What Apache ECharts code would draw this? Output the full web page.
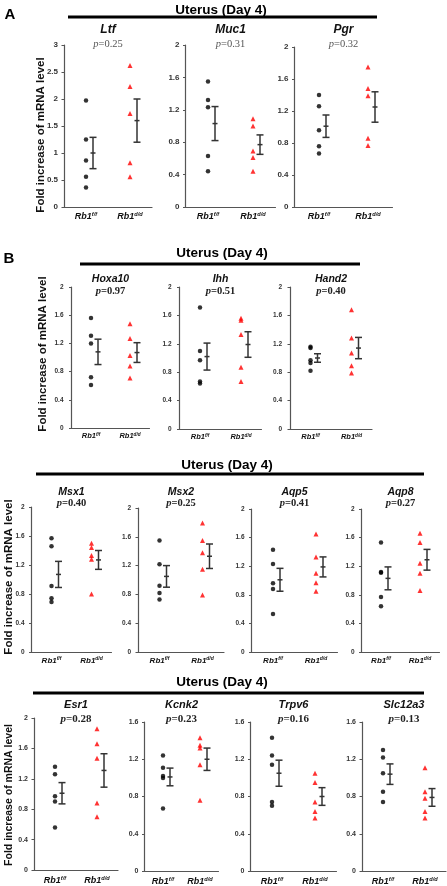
<!DOCTYPE html>
<html><head><meta charset="utf-8">
<script src="https://cdn.jsdelivr.net/npm/echarts@6/dist/echarts.min.js"></script>
<style>html,body{margin:0;padding:0;background:#fff}#c{width:447px;height:886px}</style>
</head><body><div id="c"></div>
<script>
// ---------- DATA ----------
const genes = ['Ltf','Muc1','Pgr','Hoxa10','Ihh','Hand2','Msx1','Msx2','Aqp5','Aqp8','Esr1','Kcnk2','Trpv6','Slc12a3'];
const pValues = ['0.25','0.31','0.32','0.97','0.51','0.40','0.40','0.25','0.41','0.27','0.28','0.23','0.16','0.13'];
const categories = ['Rb1f/f','Rb1d/d'];
const yMaxes = [3,2,2,2,2,2,2,2,2,2,2,1.6,1.6,1.6];
const yIntervals = [0.5,0.4,0.4,0.4,0.4,0.4,0.4,0.4,0.4,0.4,0.4,0.4,0.4,0.4];
const ffPoints = [
  [1.97,1.25,0.86,0.56,0.36],[1.55,1.32,1.23,0.63,0.44],[1.40,1.26,0.96,0.76,0.67],
  [1.56,1.31,1.20,0.72,0.61],[1.71,1.10,0.97,0.67,0.64],[1.16,1.14,0.97,0.93,0.82],
  [1.57,1.46,0.91,0.74,0.69],[1.55,1.22,0.92,0.82,0.73],[1.43,1.23,0.96,0.88,0.53],[1.53,1.12,1.11,0.77,0.64],
  [1.36,1.26,0.97,0.90,0.56],[1.24,1.11,1.02,1.00,0.67],[1.43,1.24,1.14,0.74,0.70],[1.30,1.22,1.05,0.85,0.74]
];
const ddPoints = [
  [2.62,2.23,1.73,0.82,0.56],[1.09,1.00,0.69,0.61,0.44],[1.75,1.48,1.39,0.86,0.77],
  [1.48,1.27,1.03,0.88,0.71],[1.56,1.53,1.33,0.87,0.67],[1.68,1.28,1.07,0.89,0.79],
  [1.50,1.44,1.33,1.28,0.80],[1.79,1.55,1.38,1.15,0.79],[1.65,1.33,1.10,0.97,0.85],[1.66,1.53,1.24,1.10,0.86],
  [1.86,1.66,1.47,0.88,0.70],[1.43,1.35,1.32,1.14,0.76],[1.05,0.95,0.74,0.64,0.57],[1.11,0.85,0.78,0.64,0.57]
];
const ffMean = [1.00,1.03,1.01,1.08,1.02,1.00,1.07,1.05,1.01,1.03,1.01,1.01,1.05,1.04];
const ffSem  = [0.29,0.21,0.14,0.18,0.19,0.06,0.18,0.15,0.16,0.16,0.14,0.095,0.14,0.11];
const ddMean = [1.60,0.77,1.25,1.07,1.19,1.14,1.27,1.33,1.19,1.29,1.31,1.20,0.80,0.79];
const ddSem  = [0.40,0.12,0.19,0.14,0.18,0.15,0.13,0.17,0.14,0.145,0.22,0.12,0.095,0.095];
const panelTitle = 'Uterus (Day 4)';
const yAxisTitle = 'Fold increase of mRNA level';

// ---------- LAYOUT ----------
const layout = [
  {l:64,w:88,t:45,b:207,row:0},{l:185.5,w:90,t:45,b:207,row:0},{l:294.5,w:98,t:47,b:207,row:0},
  {l:71.5,w:78,t:287,b:428,row:1},{l:179.5,w:82,t:287,b:429,row:1},{l:290,w:82,t:287,b:429,row:1},
  {l:31.5,w:80,t:507,b:652,row:2},{l:138,w:86,t:508,b:652,row:2},{l:251.5,w:86,t:509,b:652,row:2},{l:361.5,w:78,t:509,b:652,row:2},
  {l:34,w:84,t:718,b:870,row:3},{l:144.5,w:74,t:722,b:871,row:3},{l:250.5,w:86,t:722,b:871,row:3},{l:362,w:84,t:722,b:871,row:3}
];
const rows = [
  {tick:8, cat:9, gene:12, p:10.5, pBold:false, pColor:'#555', geneY:30, pY:44, labMargin:6, catMargin:4},
  {tick:6.5, cat:7.5, gene:10.5, p:10.5, pBold:true, pColor:'#222', geneY:279, pY:291, labMargin:8, catMargin:4},
  {tick:6.5, cat:8, gene:10.5, p:10.5, pBold:true, pColor:'#222', geneY:492, pY:503, labMargin:7, catMargin:4},
  {tick:7, cat:9, gene:11, p:11, pBold:true, pColor:'#222', geneY:705, pY:719, labMargin:6, catMargin:5}
];
const SANS = 'Liberation Sans, Arial, sans-serif';
const SERIF = 'Liberation Serif, Times New Roman, serif';
const AX = '#555';

function errRender(params, api){
  const m = api.coord([api.value(0), api.value(1)]);
  const lo = api.coord([api.value(0), api.value(2)]);
  const hi = api.coord([api.value(0), api.value(3)]);
  const cx = m[0] + 7;
  const st = {stroke:'#333', lineWidth:1.5};
  return {type:'group', children:[
    {type:'line', shape:{x1:cx,y1:hi[1],x2:cx,y2:lo[1]}, style:st},
    {type:'line', shape:{x1:cx-3.5,y1:hi[1],x2:cx+3.5,y2:hi[1]}, style:st},
    {type:'line', shape:{x1:cx-3.5,y1:lo[1],x2:cx+3.5,y2:lo[1]}, style:st},
    {type:'line', shape:{x1:cx-2.5,y1:m[1],x2:cx+2.5,y2:m[1]}, style:st}
  ]};
}

const grid=[], xAxis=[], yAxis=[], series=[], graphic=[];
genes.forEach((g,i)=>{
  const L = layout[i], R = rows[L.row];
  grid.push({left:L.l, top:L.t, width:L.w, height:L.b-L.t});
  xAxis.push({type:'category', gridIndex:i, data:categories, boundaryGap:true,
    axisLine:{lineStyle:{color:AX,width:1.2}}, axisTick:{show:false},
    axisLabel:{interval:0, hideOverlap:false, margin:R.catMargin, formatter:v=>'{m|Rb1}{s|'+v.slice(3)+'}',
      rich:{m:{fontFamily:SANS,fontWeight:'bold',fontStyle:'italic',fontSize:R.cat,color:'#111'},
            s:{fontFamily:SANS,fontWeight:'bold',fontStyle:'italic',fontSize:R.cat*0.62,color:'#111',verticalAlign:'top',padding:[0,0,R.cat*0.5,0]}}}});
  yAxis.push({type:'value', gridIndex:i, min:0, max:yMaxes[i], interval:yIntervals[i],
    axisLine:{show:true,lineStyle:{color:AX,width:1.2}}, axisTick:{show:true,length:2.5,lineStyle:{color:AX}},
    splitLine:{show:false},
    axisLabel:{margin:R.labMargin,fontFamily:SANS,fontWeight:'bold',fontSize:R.tick,color:'#333'}});
  series.push({type:'scatter', xAxisIndex:i, yAxisIndex:i, symbol:'circle', symbolSize:4.5,
    itemStyle:{color:'#000'}, data:ffPoints[i].map(v=>[0,v]), silent:true});
  series.push({type:'scatter', xAxisIndex:i, yAxisIndex:i, symbol:'triangle', symbolSize:5,
    itemStyle:{color:'#ff0000'}, data:ddPoints[i].map(v=>[1,v]), silent:true});
  series.push({type:'custom', xAxisIndex:i, yAxisIndex:i, renderItem:errRender, encode:{x:0,y:[1,2,3]},
    data:[[0,ffMean[i],ffMean[i]-ffSem[i],ffMean[i]+ffSem[i]],[1,ddMean[i],ddMean[i]-ddSem[i],ddMean[i]+ddSem[i]]], silent:true});
  const cx = L.l + L.w/2;
  graphic.push({type:'text', x:cx, y:R.geneY, style:{text:g, fontFamily:SANS, fontWeight:'bold', fontStyle:'italic',
    fontSize:R.gene, fill:'#111', align:'center', verticalAlign:'middle'}});
  graphic.push({type:'text', x:cx, y:R.pY, style:{text:'{i|p}{n|='+pValues[i]+'}', align:'center', verticalAlign:'middle',
    rich:{i:{fontFamily:SERIF,fontStyle:'italic',fontWeight:R.pBold?'bold':'normal',fontSize:R.p,fill:R.pColor},
          n:{fontFamily:SERIF,fontWeight:R.pBold?'bold':'normal',fontSize:R.p,fill:R.pColor}}}});
});

// panel titles, rules, letters, y titles
const heads = [
  {tx:221, ty:10, x1:68, x2:377, ly:17},
  {tx:222, ty:253, x1:80, x2:360, ly:264},
  {tx:227, ty:465, x1:36, x2:424, ly:474},
  {tx:222, ty:682, x1:33, x2:424, ly:693}
];
heads.forEach(h=>{
  graphic.push({type:'text', x:h.tx, y:h.ty, style:{text:panelTitle, fontFamily:SANS, fontWeight:'bold', fontSize:13.5,
    fill:'#000', align:'center', verticalAlign:'middle'}});
  graphic.push({type:'line', shape:{x1:h.x1,y1:h.ly,x2:h.x2,y2:h.ly}, style:{stroke:'#000', lineWidth:3}});
});
graphic.push({type:'text', x:10, y:15, style:{text:'A', fontFamily:SANS, fontWeight:'bold', fontSize:15, fill:'#000', align:'center', verticalAlign:'middle'}});
graphic.push({type:'text', x:9, y:259, style:{text:'B', fontFamily:SANS, fontWeight:'bold', fontSize:15, fill:'#000', align:'center', verticalAlign:'middle'}});
const yTitles = [{x:41,y:135,fs:11.5},{x:43,y:354,fs:11.5},{x:9,y:577,fs:11.5},{x:9,y:795,fs:10.5}];
yTitles.forEach(t=>{
  graphic.push({type:'text', x:t.x, y:t.y, rotation:Math.PI/2, style:{text:yAxisTitle, fontFamily:SANS, fontWeight:'bold',
    fontSize:t.fs, fill:'#111', align:'center', verticalAlign:'middle'}});
});

const chart = echarts.init(document.getElementById('c'), null, {renderer:'canvas'});
chart.setOption({animation:false, backgroundColor:'#fff', grid, xAxis, yAxis, series, graphic});
</script>
</body></html>
